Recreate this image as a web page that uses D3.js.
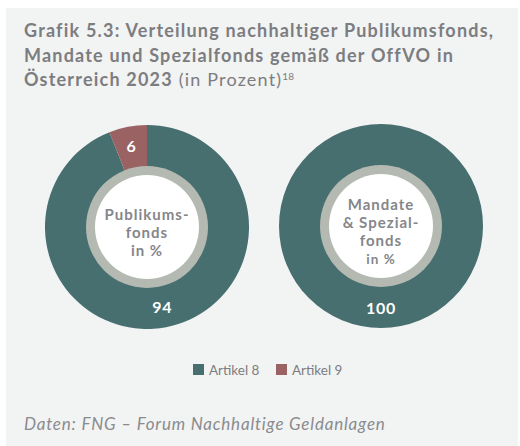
<!DOCTYPE html>
<html>
<head>
<meta charset="utf-8">
<script src="https://cdn.jsdelivr.net/npm/d3@7"></script>
<style>
  body { margin: 0; background: #fff; }
  svg { display: block; font-family: Lato, "Open Sans", sans-serif; }
</style>
</head>
<body>
<div id="chart"></div>
<script>
// data
const categories = ["Artikel 8", "Artikel 9"];
const publikumsfonds = [94, 6];
const mandate = [100, 0];
const centerLabels = [
  ["Publikums-", "fonds", "in %"],
  ["Mandate", "& Spezial-", "fonds", "in %"]
];
const titleLines = [
  "Grafik 5.3: Verteilung nachhaltiger Publikumsfonds,",
  "Mandate und Spezialfonds gemäß der OffVO in",
  "Österreich 2023"
];
const sourceText = "Daten: FNG – Forum Nachhaltige Geldanlagen";

const W = 520, H = 446;
const color = d3.scaleOrdinal().domain(categories).range(["#476f70", "#9a6263"]);
const textGray = "#7c7d80";

const svg = d3.select("#chart").append("svg")
  .attr("width", W).attr("height", H);

// panel
svg.append("rect")
  .attr("x", 6).attr("y", 8).attr("width", 512).attr("height", 438)
  .attr("fill", "#f2f3f3");

// title
const title = svg.append("text")
  .attr("x", 24).attr("fill", textGray)
  .attr("font-size", 18).attr("font-weight", 700)
  .attr("letter-spacing", 1.2);
titleLines.forEach((t, i) => {
  title.append("tspan").attr("x", 24).attr("y", 37 + i * 24.5).text(t);
  if (i === titleLines.length - 1) {
    title.append("tspan").attr("font-weight", 400).text(" (in Prozent)");
    title.append("tspan").attr("font-weight", 400).attr("font-size", 10)
      .attr("letter-spacing", 0).attr("dy", -6).text("18");
  }
});

const pie = d3.pie().sort(null);
const outerR = 102, innerR = 60;
const arc = d3.arc().innerRadius(innerR).outerRadius(outerR);
const labelArc = d3.arc().innerRadius(82).outerRadius(82);

function donut(cx, cy, values, labels) {
  const g = svg.append("g").attr("transform", `translate(${cx},${cy})`);
  const arcs = pie(values);
  g.selectAll("path.slice")
    .data(arcs.filter(d => d.value > 0))
    .enter().append("path")
    .attr("class", "slice")
    .attr("d", arc)
    .attr("fill", d => color(categories[d.index]));

  // grey ring and white centre
  g.append("circle").attr("r", 61).attr("fill", "#b4b9b1");
  g.append("circle").attr("r", 52).attr("fill", "#fff");

  g.selectAll("text.val")
    .data(arcs.filter(d => d.value > 0))
    .enter().append("text")
    .attr("class", "val")
    .attr("transform", d => {
      const c = labelArc.centroid(d);
      return `translate(${c[0]},${c[1]})`;
    })
    .attr("text-anchor", "middle")
    .attr("dy", "0.35em")
    .attr("fill", "#fff")
    .attr("font-size", 16)
    .attr("font-weight", 700)
    .attr("letter-spacing", 0.8)
    .text(d => d.value);

  // centre label
  const n = labels.length;
  const lh = 18;
  const y0 = -((n - 1) * lh) / 2 + 11;
  labels.forEach((t, i) => {
    g.append("text")
      .attr("text-anchor", "middle")
      .attr("y", y0 + i * lh)
      .attr("fill", "#85868a")
      .attr("font-weight", 700)
      .attr("letter-spacing", 1)
      .attr("font-size", t === "in %" && n > 3 ? 13.5 : 15)
      .text(t);
  });
}

donut(147, 227, publikumsfonds, centerLabels[0]);
donut(381, 226, mandate, centerLabels[1]);

// legend
const legend = svg.append("g").attr("transform", "translate(193,364)");
const items = legend.selectAll("g").data(categories).enter().append("g")
  .attr("transform", (d, i) => `translate(${i * 83},0)`);
items.append("rect").attr("width", 11).attr("height", 11).attr("fill", d => color(d));
items.append("text").attr("x", 16).attr("y", 10.5)
  .attr("fill", textGray).attr("font-size", 13.5).text(d => d);

// source
svg.append("text")
  .attr("x", 24).attr("y", 430)
  .attr("fill", "#8a8b8e").attr("font-size", 17).attr("font-style", "italic")
  .attr("letter-spacing", 0.8)
  .text(sourceText);
</script>
</body>
</html>
